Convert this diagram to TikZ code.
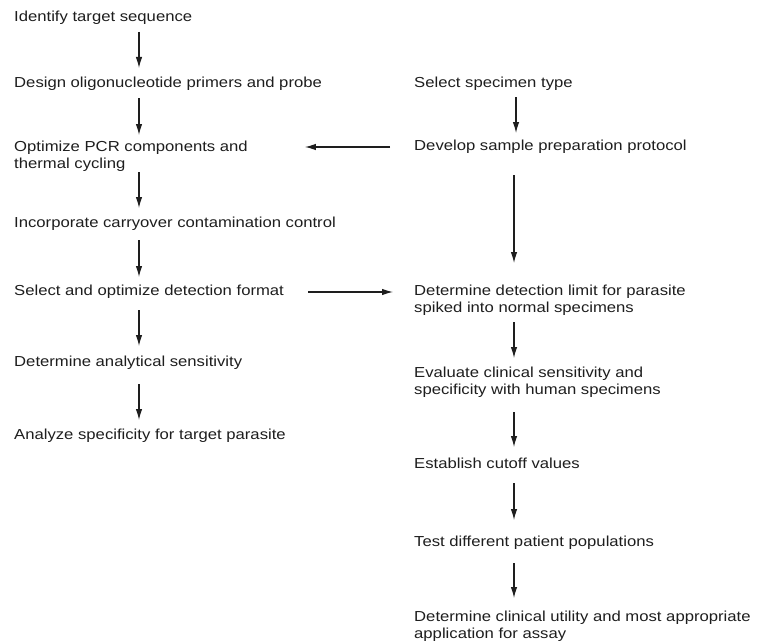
\documentclass[tikz,border=0pt]{standalone}
\usepackage{fontspec}
\setmainfont[FakeStretch=1.15]{Liberation Sans}
\usetikzlibrary{arrows.meta}
\definecolor{ink}{HTML}{1E1E1E}
\begin{document}
\begin{tikzpicture}[x=1pt,y=-1pt,
  txt/.style={anchor=west,inner sep=0pt,align=left,text=ink,font=\fontsize{14.5}{16.5}\selectfont},
  arr/.style={draw=ink,line width=1.1pt,-{Latex[length=11pt,width=6.5pt]}}]
\useasboundingbox (0,0) rectangle (757,642);
\coordinate (cL) at (139,0);
\coordinate (cR1) at (516,0);
\coordinate (cR) at (514,0);
% left column
\node[txt] (L1) at (14,18) {Identify target sequence};
\node[txt] (L2) at (14,84) {Design oligonucleotide primers and probe};
\node[txt] (L3) at (14,156) {Optimize PCR components and\\thermal cycling};
\node[txt] (L4) at (14,224) {Incorporate carryover contamination control};
\node[txt] (L5) at (14,292) {Select and optimize detection format};
\node[txt] (L6) at (14,363) {Determine analytical sensitivity};
\node[txt] (L7) at (14,436) {Analyze specificity for target parasite};
% right column
\node[txt] (R1) at (414,84) {Select specimen type};
\node[txt] (R2) at (414,147) {Develop sample preparation protocol};
\node[txt] (R3) at (414,300) {Determine detection limit for parasite\\spiked into normal specimens};
\node[txt] (R4) at (414,382) {Evaluate clinical sensitivity and\\specificity with human specimens};
\node[txt] (R5) at (414,463) {Establish cutoff values};
\node[txt] (R6) at (414,543) {Test different patient populations};
\node[txt] (R7) at (414,626) {Determine clinical utility and most appropriate\\application for assay};
% left arrows
\draw[arr,shorten <=14pt,shorten >=16pt] (L1 -| cL) -- (L2 -| cL);
\draw[arr,shorten <=14pt,shorten >=21pt] (L2 -| cL) -- (L3 -| cL);
\draw[arr,shorten <=16pt,shorten >=16pt] (L3 -| cL) -- (L4 -| cL);
\draw[arr,shorten <=16pt,shorten >=15pt] (L4 -| cL) -- (L5 -| cL);
\draw[arr,shorten <=18pt,shorten >=17pt] (L5 -| cL) -- (L6 -| cL);
\draw[arr,shorten <=21pt,shorten >=16pt] (L6 -| cL) -- (L7 -| cL);
% right arrows
\draw[arr,shorten <=13pt,shorten >=14pt] (R1 -| cR1) -- (R2 -| cR1);
\draw[arr,shorten <=28pt,shorten >=37pt] (R2 -| cR) -- (R3 -| cR);
\draw[arr,shorten <=22pt,shorten >=24pt] (R3 -| cR) -- (R4 -| cR);
\draw[arr,shorten <=30pt,shorten >=16pt] (R4 -| cR) -- (R5 -| cR);
\draw[arr,shorten <=20pt,shorten >=23pt] (R5 -| cR) -- (R6 -| cR);
\draw[arr,shorten <=20pt,shorten >=28pt] (R6 -| cR) -- (R7 -| cR);
% horizontal arrows
\draw[arr,shorten <=24pt,shorten >=57pt] (R2.west) -- (R2.west -| L3.east);
\draw[arr,shorten <=24pt,shorten >=21pt] (L5.east) -- (L5.east -| R3.west);
\end{tikzpicture}
\end{document}
